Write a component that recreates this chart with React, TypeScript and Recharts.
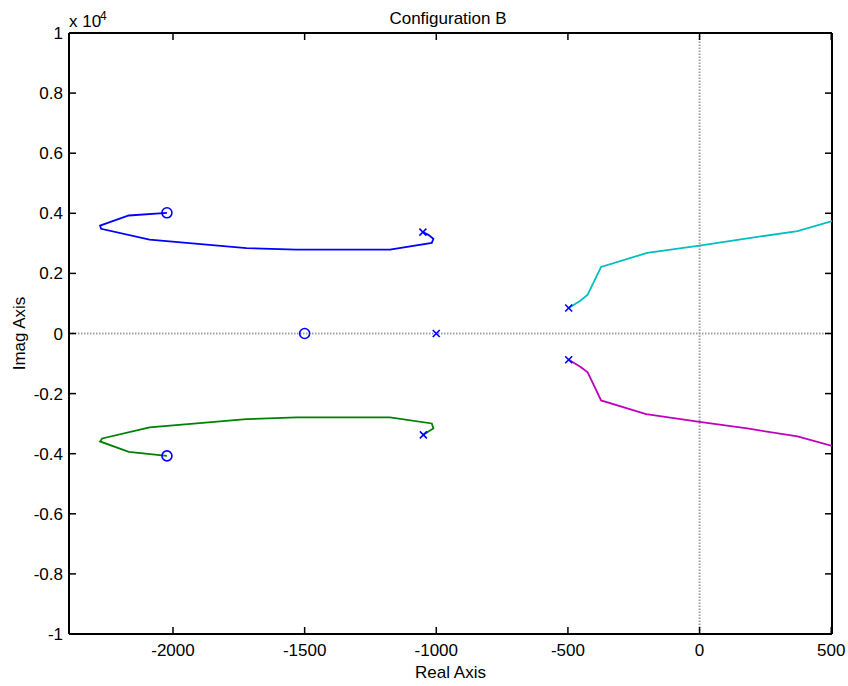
import React from 'react';
import {
  ScatterChart, Scatter, XAxis, YAxis, ReferenceLine, Label,
} from 'recharts';

// root locus branches (imag part in raw units, axis shows x 10^4)
const upperX = [-2023, -2168, -2277, -2273, -2089, -1721, -1531, -1176, -1017, -1011, -1030, -1051];
const upperY = [4017, 3927, 3593, 3483, 3127, 2840, 2793, 2793, 3017, 3150, 3283, 3373];
const lowerX = [-2023, -2168, -2277, -2269, -2089, -1721, -1531, -1176, -1017, -1011, -1030, -1049];
const lowerY = [-4073, -3940, -3593, -3493, -3127, -2850, -2793, -2793, -2993, -3160, -3260, -3373];
const rightUpX = [-497, -453, -425, -374, -199, 0, 169, 372, 503];
const rightUpY = [850, 1093, 1293, 2217, 2683, 2927, 3150, 3407, 3740];
const rightLoX = [-497, -453, -425, -374, -203, 0, 181, 372, 503];
const rightLoY = [-873, -1107, -1293, -2227, -2683, -2940, -3160, -3427, -3740];

const zeroX = [-2023, -1500, -2023];
const zeroY = [4017, 0, -4073];
const poleX = [-1051, -1000, -497, -1049, -497];
const poleY = [3373, 0, 850, -3373, -873];

const xTicks = [-2000, -1500, -1000, -500, 0, 500];
const yTicks = [-10000, -8000, -6000, -4000, -2000, 0, 2000, 4000, 6000, 8000, 10000];

const zip = (xs: number[], ys: number[]) => xs.map((x, i) => ({ x, y: ys[i] }));

const FONT = 'Liberation Sans, Arial, Helvetica, sans-serif';
const FS = 17;
const tickStyle = { fontSize: FS, fill: '#000', fontFamily: FONT };
const axisLine = { stroke: '#000', strokeWidth: 2 };
const tickLine = { stroke: '#000', strokeWidth: 1.5 };

const fmtY = (v: number) => String(Math.round(v / 1000) / 10);

const Circle = (p: any) => (
  <circle cx={p.cx} cy={p.cy} r={5} fill="none" stroke="#0000ff" strokeWidth={1.6} />
);
const Cross = (p: any) => (
  <g stroke="#0000ff" strokeWidth={1.6}>
    <line x1={p.cx - 3.5} y1={p.cy - 3.5} x2={p.cx + 3.5} y2={p.cy + 3.5} />
    <line x1={p.cx - 3.5} y1={p.cy + 3.5} x2={p.cx + 3.5} y2={p.cy - 3.5} />
  </g>
);
const NoDot = () => <g />;

export default function App() {
  return (
    <div style={{ position: 'absolute', left: 0, top: 0, background: '#fff' }}>
      <ScatterChart width={848} height={686} margin={{ top: 32, right: 15, bottom: 0, left: 0 }}>
        <XAxis
          type="number" dataKey="x" xAxisId="b" orientation="bottom" height={52}
          domain={[-2395, 503]} ticks={xTicks} allowDataOverflow
          tick={tickStyle} tickSize={-7} tickMargin={17} axisLine={axisLine} tickLine={tickLine}
        >
          <Label
            content={(p: any) => (
              <text x={p.viewBox.x + p.viewBox.width / 2} y={678} textAnchor="middle"
                fontSize={FS} fontFamily={FONT} fill="#000">Real Axis</text>
            )}
          />
        </XAxis>
        <XAxis
          type="number" dataKey="x" xAxisId="t" orientation="top" height={1}
          domain={[-2395, 503]} ticks={xTicks} allowDataOverflow
          tickFormatter={() => ''} tickSize={-7} axisLine={axisLine} tickLine={tickLine}
        >
          <Label
            content={() => (
              <g fontFamily={FONT} fill="#000">
                <text x={448} y={24} textAnchor="middle" fontSize={FS}>Configuration B</text>
                <text x={69} y={27} fontSize={FS}>x 10</text>
                <text x={100} y={20} fontSize={12}>4</text>
              </g>
            )}
          />
        </XAxis>
        <YAxis
          type="number" dataKey="y" yAxisId="l" orientation="left" width={69}
          domain={[-10000, 10000]} ticks={yTicks} allowDataOverflow tickFormatter={fmtY}
          tick={tickStyle} tickSize={-7} tickMargin={13} axisLine={axisLine} tickLine={tickLine}
        >
          <Label
            content={(p: any) => {
              const cy = p.viewBox.y + p.viewBox.height / 2;
              return (
                <text x={25} y={cy} transform={`rotate(-90 25 ${cy})`} textAnchor="middle"
                  fontSize={FS} fontFamily={FONT} fill="#000">Imag Axis</text>
              );
            }}
          />
        </YAxis>
        <YAxis
          type="number" dataKey="y" yAxisId="r" orientation="right" width={1}
          domain={[-10000, 10000]} ticks={yTicks} allowDataOverflow tickFormatter={() => ''}
          tickSize={-7} axisLine={axisLine} tickLine={tickLine}
        />

        <ReferenceLine xAxisId="b" yAxisId="l" x={0} stroke="#a0a0a0" strokeWidth={2} strokeDasharray="1.5 1.5" />
        <ReferenceLine xAxisId="b" yAxisId="l" y={0} stroke="#a0a0a0" strokeWidth={2} strokeDasharray="1.5 1.5" />

        {/* hidden series so the top/right frame axes get drawn */}
        <Scatter xAxisId="t" yAxisId="r" data={zip(zeroX, zeroY)} shape={NoDot} isAnimationActive={false} />

        <Scatter xAxisId="b" yAxisId="l" data={zip(upperX, upperY)} line={{ stroke: '#0000ff', strokeWidth: 1.8 }}
          lineType="joint" shape={NoDot} isAnimationActive={false} />
        <Scatter xAxisId="b" yAxisId="l" data={zip(lowerX, lowerY)} line={{ stroke: '#008000', strokeWidth: 1.8 }}
          lineType="joint" shape={NoDot} isAnimationActive={false} />
        <Scatter xAxisId="b" yAxisId="l" data={zip(rightUpX, rightUpY)} line={{ stroke: '#00bfbf', strokeWidth: 1.8 }}
          lineType="joint" shape={NoDot} isAnimationActive={false} />
        <Scatter xAxisId="b" yAxisId="l" data={zip(rightLoX, rightLoY)} line={{ stroke: '#bf00bf', strokeWidth: 1.8 }}
          lineType="joint" shape={NoDot} isAnimationActive={false} />
        <Scatter xAxisId="b" yAxisId="l" data={zip(zeroX, zeroY)} shape={Circle} isAnimationActive={false} />
        <Scatter xAxisId="b" yAxisId="l" data={zip(poleX, poleY)} shape={Cross} isAnimationActive={false} />
      </ScatterChart>
    </div>
  );
}
